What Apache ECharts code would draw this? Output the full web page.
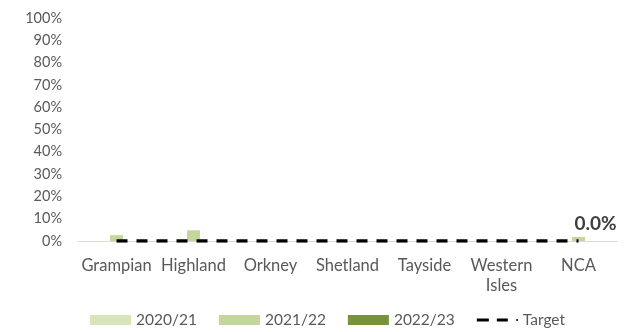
<!DOCTYPE html>
<html>
<head>
<meta charset="utf-8">
<script src="https://cdn.jsdelivr.net/npm/echarts@6/dist/echarts.min.js"></script>
<style>
  html, body { margin: 0; padding: 0; background: #fff; }
  #chart { width: 635px; height: 332px; }
</style>
</head>
<body>
<div id="chart"></div>
<script>
// Categories and series values (percent)
var categories = ['Grampian', 'Highland', 'Orkney', 'Shetland', 'Tayside', 'Western\nIsles', 'NCA'];
var values2020 = [null, null, null, null, null, null, null];
var values2021 = [2.6, 4.8, null, null, null, null, 1.8];
var values2022 = [0, 0, 0, 0, 0, 0, 0];
var target = [0, 0, 0, 0, 0, 0, 0];
var yTicks = [0, 10, 20, 30, 40, 50, 60, 70, 80, 90, 100];

var FONT = 'Lato';
var chart = echarts.init(document.getElementById('chart'));

// legend glyph for the target: two dashes and a dot (M points pin the box to 41x10)
var targetIcon = 'path://M0,0Z M41,10Z M0,3.5H12V6.5H0Z M20,3.5H31V6.5H20Z M39.5,4H41V6H39.5Z';

chart.setOption({
  animation: false,
  textStyle: { fontFamily: FONT },
  grid: { left: 78, right: 18, top: 18, bottom: 91 },
  legend: {
    bottom: 4,
    left: 90,
    padding: 0,
    itemWidth: 41,
    itemHeight: 10,
    itemGap: 22,
    textStyle: { color: '#595959', fontSize: 15.5, fontFamily: FONT },
    data: [
      { name: '2020/21', icon: 'rect' },
      { name: '2021/22', icon: 'rect' },
      { name: '2022/23', icon: 'rect' },
      { name: 'Target', icon: targetIcon }
    ]
  },
  xAxis: {
    type: 'category',
    data: categories,
    axisLine: { lineStyle: { color: '#d9d9d9', width: 1 } },
    axisTick: { show: false },
    axisLabel: { color: '#595959', fontSize: 16.5, margin: 15, lineHeight: 20, interval: 0 }
  },
  yAxis: {
    type: 'value',
    min: yTicks[0],
    max: yTicks[yTicks.length - 1],
    interval: 10,
    splitLine: { show: false },
    axisLine: { show: false },
    axisTick: { show: false },
    axisLabel: { color: '#595959', fontSize: 14.5, margin: 16, formatter: '{value}%' }
  },
  series: [
    {
      name: '2020/21', type: 'bar', data: values2020,
      barWidth: 13, barGap: '0%',
      itemStyle: { color: '#d8e4bc' }
    },
    {
      name: '2021/22', type: 'bar', data: values2021,
      barWidth: 13, barGap: '0%',
      itemStyle: { color: '#c3d69b' }
    },
    {
      name: '2022/23', type: 'bar', data: values2022,
      barWidth: 13, barGap: '0%',
      itemStyle: { color: '#77933c' },
      label: {
        show: true,
        position: 'top',
        distance: 8,
        offset: [4, 0],
        color: '#404040',
        fontSize: 19,
        fontWeight: 'bold',
        formatter: function (p) {
          return p.dataIndex === categories.length - 1 ? p.value.toFixed(1) + '%' : '';
        }
      }
    },
    {
      name: 'Target', type: 'line', data: target,
      symbol: 'none',
      z: 5,
      lineStyle: { color: '#000', width: 3.5, type: [11, 9] },
      itemStyle: { color: '#000' }
    }
  ]
});
</script>
</body>
</html>
